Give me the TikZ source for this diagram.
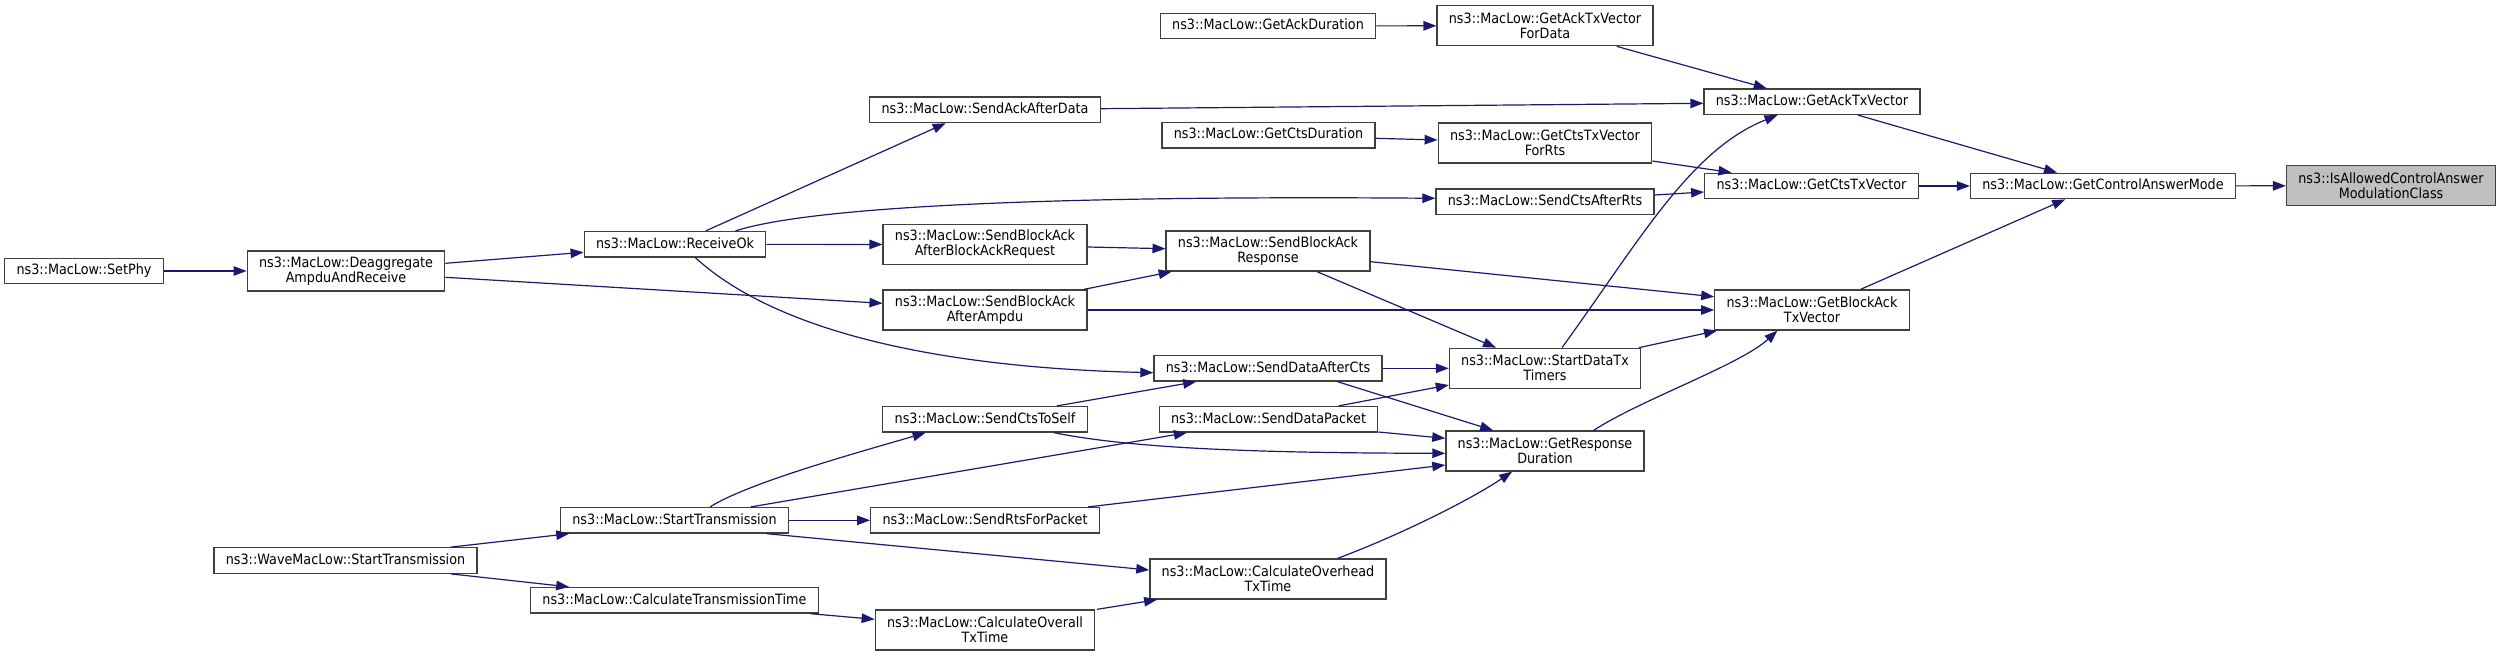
\documentclass[tikz,border=0pt]{standalone}
\usepackage{fontspec}
\setmainfont{DejaVu Sans}[FakeStretch=0.9]
\usepackage{xcolor}
\usepackage{tikz}
\usetikzlibrary{
    arrows.meta,
    positioning
}
\definecolor{calledge}{HTML}{191970}
\definecolor{nodeborder}{HTML}{404040}
\definecolor{focusfill}{HTML}{BFBFBF}
\newcommand{\fnfont}{\fontsize{14.2}{15}\selectfont}
\tikzset{
    member/.style={
        rectangle, draw=nodeborder, fill=white,
        line width=1.3pt, inner xsep=11.8pt, inner ysep=0pt,
        font=\fnfont
    },
    member one/.style={
        member, minimum height=25.5pt,
        text height=10.5pt, text depth=3pt
    },
    member two/.style={
        member, minimum height=40pt, align=center
    },
    focus/.style={
        member two, fill=focusfill
    },
    call/.style={
        -{Triangle[length=13pt, width=9.5pt]}, line width=1.2pt, color=calledge
    },
}

\begin{document}
\begin{tikzpicture}[x=1pt, y=-1pt]
    \useasboundingbox (0,0) rectangle (2501,656);

    % callers, left to right
    \node[member one] (setphy) at (84,271) {ns3::MacLow::SetPhy};
    \node[member two] (deagg) at (346,271) {ns3::MacLow::Deaggregate\\AmpduAndReceive};
    \node[member one] (wavestart) at (345.5,560.5) {ns3::WaveMacLow::StartTransmission};
    \node[member one] (recvok) at (675,244.3) {ns3::MacLow::ReceiveOk};
    \node[member one] (starttx) at (674.5,520.3) {ns3::MacLow::StartTransmission};
    \node[member one] (calctxtime) at (674.4,600.3) {ns3::MacLow::CalculateTransmissionTime};

    \node[member one] (sendack) at (985,109.8) {ns3::MacLow::SendAckAfterData};
    \node[member two] (sendbarreq) at (985,244.5) {ns3::MacLow::SendBlockAck\\AfterBlockAckRequest};
    \node[member two] (sendbaampdu) at (985,310) {ns3::MacLow::SendBlockAck\\AfterAmpdu};
    \node[member one] (sendctsself) at (985,419.3) {ns3::MacLow::SendCtsToSelf};
    \node[member one] (sendrts) at (985,520.3) {ns3::MacLow::SendRtsForPacket};
    \node[member two] (calcoverall) at (985,630) {ns3::MacLow::CalculateOverall\\TxTime};

    \node[member one] (getackdur) at (1268,26) {ns3::MacLow::GetAckDuration};
    \node[member one] (getctsdur) at (1268.5,135.2) {ns3::MacLow::GetCtsDuration};
    \node[member two] (sendbaresp) at (1268,251) {ns3::MacLow::SendBlockAck\\Response};
    \node[member one] (senddatacts) at (1268,368.3) {ns3::MacLow::SendDataAfterCts};
    \node[member one] (senddatapkt) at (1268.5,419.3) {ns3::MacLow::SendDataPacket};
    \node[member two] (calcoverhead) at (1268,579) {ns3::MacLow::CalculateOverhead\\TxTime};

    \node[member two] (getackdata) at (1545,25.7) {ns3::MacLow::GetAckTxVector\\ForData};
    \node[member two] (getctsrts) at (1545,143) {ns3::MacLow::GetCtsTxVector\\ForRts};
    \node[member one] (sendctsrts) at (1545,201.7) {ns3::MacLow::SendCtsAfterRts};
    \node[member two] (startdatatx) at (1545,368.3) {ns3::MacLow::StartDataTx\\Timers};
    \node[member two] (getresp) at (1545,451) {ns3::MacLow::GetResponse\\Duration};

    \node[member one] (getack) at (1812,101.7) {ns3::MacLow::GetAckTxVector};
    \node[member one] (getcts) at (1811.5,186) {ns3::MacLow::GetCtsTxVector};
    \node[member two] (getbatx) at (1812,310) {ns3::MacLow::GetBlockAck\\TxVector};
    \node[member one] (ctrlmode) at (2103,186) {ns3::MacLow::GetControlAnswerMode};
    \node[focus] (isallowed) at (2391,185.7) {ns3::IsAllowedControlAnswer\\ModulationClass};

    % calls
    \draw[call] (setphy) -- (deagg);
    \draw[call] ([yshift=7.7]deagg.east) -- ([yshift=-8]recvok.west);
    \draw[call] ([yshift=-6.3]deagg.east) -- ([yshift=6.7]sendbaampdu.west);
    \draw[call] ([xshift=30.7]recvok.north) -- ([xshift=-39.3]sendack.south);
    \draw[call] ([xshift=60.5]recvok.north) .. controls (800,210) and (1000,195) .. ([yshift=3.4]sendctsrts.west);
    \draw[call] (recvok) -- (sendbarreq);
    \draw[call] ([xshift=20.4]recvok.south) .. controls (780,335) and (950,368) .. ([yshift=-4.4]senddatacts.west);
    \draw[call] ([xshift=105.5]wavestart.north) -- ([xshift=-105.3]starttx.south);
    \draw[call] ([xshift=105.5]wavestart.south) -- ([xshift=-105.2]calctxtime.north);
    \draw[call] ([xshift=35.5]starttx.north) .. controls (750,482) and (860,452) .. ([xshift=-59.4]sendctsself.south);
    \draw[call] ([xshift=76.3]starttx.north) -- ([xshift=-81.6]senddatapkt.south);
    \draw[call] (starttx) -- (sendrts);
    \draw[call] ([xshift=92.5]starttx.south) -- ([yshift=9]calcoverhead.west);
    \draw[call] ([xshift=136]calctxtime.south) -- ([yshift=10.7]calcoverall.west);

    \draw[call] ([yshift=1.1]sendack.east) -- ([yshift=-1.6]getack.west);
    \draw[call] ([yshift=-2.5]sendbarreq.east) -- ([yshift=2.3]sendbaresp.west);
    \draw[call] ([xshift=99]sendbaampdu.north) -- ([xshift=-96.3]sendbaresp.south);
    \draw[call] (sendbaampdu) -- (getbatx);
    \draw[call] ([xshift=71.8]sendctsself.north) -- ([xshift=-71.9]senddatacts.south);
    \draw[call] ([xshift=69.1]sendctsself.south) .. controls (1130,448) and (1250,453) .. ([yshift=-2.3]getresp.west);
    \draw[call] ([xshift=103.2]sendrts.north) -- ([yshift=-14]getresp.west);
    \draw[call] ([xshift=112]calcoverall.north) -- ([xshift=-110.9]calcoverhead.south);

    \draw[call] (getackdur) -- (getackdata);
    \draw[call] ([yshift=-3.1]getctsdur.east) -- ([yshift=3]getctsrts.west);
    \draw[call] ([yshift=-10.7]sendbaresp.east) -- ([yshift=13.3]getbatx.west);
    \draw[call] ([xshift=49]sendbaresp.south) -- ([xshift=-49]startdatatx.north);
    \draw[call] (senddatacts) -- (startdatatx);
    \draw[call] ([xshift=69.6]senddatacts.south) -- ([xshift=-51.9]getresp.north);
    \draw[call] ([xshift=70.1]senddatapkt.north) -- ([yshift=-16.7]startdatatx.west);
    \draw[call] ([yshift=-12.7]senddatapkt.east) -- ([yshift=12.7]getresp.west);
    \draw[call] ([xshift=69.6]calcoverhead.north) .. controls (1400,535) and (1470,500) .. ([xshift=-32.9]getresp.south);

    \draw[call] ([xshift=71.7]getackdata.south) -- ([xshift=-45.3]getack.north);
    \draw[call] ([yshift=-18]getctsrts.east) -- ([xshift=-80]getcts.north);
    \draw[call] ([yshift=6.7]sendctsrts.east) -- ([yshift=-6]getcts.west);
    \draw[call] ([xshift=17]startdatatx.north) .. controls (1640,240) and (1690,150) .. ([xshift=-34.5]getack.south);
    \draw[call] ([xshift=94]startdatatx.north) -- ([xshift=-95]getbatx.south);
    \draw[call] ([xshift=48.7]getresp.north) .. controls (1640,400) and (1740,365) .. ([xshift=-34.6]getbatx.south);

    \draw[call] ([xshift=45.9]getack.south) -- ([xshift=-46]ctrlmode.north);
    \draw[call] (getcts) -- (ctrlmode);
    \draw[call] ([xshift=48.6]getbatx.north) -- ([xshift=-37.8]ctrlmode.south);
    \draw[call] (ctrlmode) -- (isallowed);
\end{tikzpicture}
\end{document}
